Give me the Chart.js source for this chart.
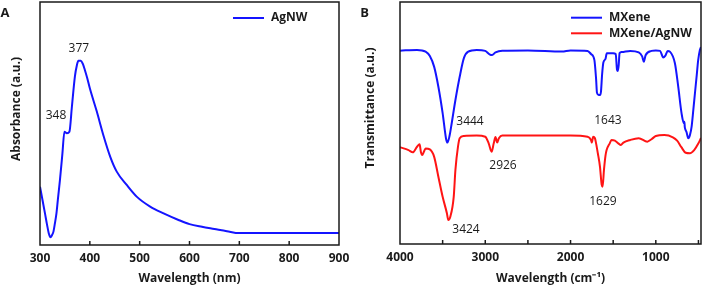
<!DOCTYPE html>
<html>
<head>
<meta charset="utf-8">
<script src="https://cdn.jsdelivr.net/npm/chart.js@4/dist/chart.umd.min.js"></script>
<style>
html, body { margin: 0; padding: 0; background: #fff; }
#wrap { position: relative; width: 704px; height: 287px; }
#wrap canvas { position: absolute; top: 0; }
</style>
</head>
<body>
<div id="wrap">
  <canvas id="chartA" width="360" height="287" style="left:0"></canvas>
  <canvas id="chartB" width="344" height="287" style="left:360px"></canvas>
</div>
<script>
// panel A - UV-vis of AgNW
let wavelengthA = [300, 305, 310, 314, 318, 321, 324, 327, 330, 333, 336, 340, 345, 349, 354, 359, 364, 370, 374, 377, 382, 386, 390, 395, 400, 414, 427, 441, 454, 474, 494, 521, 548, 578, 600, 625, 650, 675, 700, 750, 800, 850, 900];
let absorbanceA = [0.240, 0.185, 0.130, 0.085, 0.045, 0.032, 0.040, 0.055, 0.090, 0.130, 0.190, 0.267, 0.377, 0.466, 0.460, 0.466, 0.569, 0.693, 0.740, 0.758, 0.758, 0.745, 0.720, 0.685, 0.645, 0.549, 0.453, 0.363, 0.302, 0.247, 0.199, 0.158, 0.130, 0.103, 0.086, 0.075, 0.066, 0.057, 0.049, 0.049, 0.049, 0.049, 0.049];
let ticksA = [300, 400, 500, 600, 700, 800, 900];
let peakTextA = ['348', '377'];
let peakXA = [332, 378];
let peakYA = [0.531, 0.807];

// panel B - FTIR
let mxeneX = [4000, 3800, 3700, 3650, 3600, 3550, 3500, 3460, 3444, 3420, 3400, 3350, 3300, 3250, 3200, 3100, 3000, 2950, 2920, 2880, 2800, 2500, 2100, 2000, 1800, 1760, 1720, 1700, 1690, 1670, 1655, 1643, 1630, 1615, 1590, 1575, 1540, 1500, 1470, 1455, 1445, 1435, 1425, 1400, 1300, 1200, 1160, 1140, 1120, 1050, 1000, 950, 913, 890, 860, 835, 776, 737, 698, 671, 665, 660, 655, 640, 620, 600, 580, 560, 541, 520, 503, 483, 470];
let mxeneT = [79.9, 80.2, 79.5, 77.7, 73.3, 65.0, 54.1, 43.5, 41.9, 44.5, 48.5, 59.5, 69.1, 76.9, 79.5, 80.2, 79.8, 78.4, 78.1, 79.2, 79.9, 80.0, 79.5, 80.0, 79.8, 78.5, 76.0, 68.0, 62.5, 61.6, 61.6, 63.0, 70.0, 75.0, 76.5, 78.8, 78.8, 78.8, 78.5, 72.0, 71.5, 74.0, 78.9, 79.3, 79.8, 79.2, 77.5, 75.3, 78.0, 79.8, 80.0, 79.8, 77.1, 77.7, 79.8, 79.5, 74.7, 65.0, 54.0, 49.9, 50.5, 48.3, 47.5, 46.3, 43.7, 45.0, 48.5, 55.4, 62.3, 69.8, 76.0, 80.2, 81.4];
let compX = [4000, 3900, 3850, 3800, 3770, 3755, 3740, 3720, 3700, 3650, 3600, 3550, 3500, 3450, 3434, 3410, 3370, 3350, 3320, 3300, 3250, 3100, 3000, 2960, 2926, 2900, 2880, 2860, 2840, 2800, 2500, 2000, 1800, 1760, 1750, 1735, 1714, 1700, 1680, 1655, 1635, 1624, 1608, 1590, 1577, 1540, 1520, 1480, 1440, 1410, 1380, 1300, 1200, 1100, 1050, 1000, 900, 800, 750, 700, 650, 600, 550, 500, 470];
let compT = [40.0, 38.8, 37.9, 40.2, 41.2, 38.0, 36.8, 38.1, 39.5, 39.1, 36.1, 27.8, 19.5, 12.7, 9.9, 11.3, 19.5, 30.6, 40.2, 43.7, 44.6, 44.8, 44.3, 41.6, 38.1, 41.7, 44.2, 41.9, 43.7, 44.8, 44.8, 44.8, 44.3, 43.0, 41.9, 44.3, 43.7, 41.5, 37.5, 32.0, 24.5, 23.7, 30.6, 36.5, 38.8, 41.6, 43.0, 42.7, 41.6, 40.9, 41.9, 43.0, 43.7, 42.3, 43.3, 44.6, 45.0, 44.1, 42.7, 40.0, 37.7, 37.5, 38.8, 41.6, 43.8];
let ticksB = [500, 1000, 1500, 2000, 2500, 3000, 3500, 4000];
let tickLabelsB = ['', '1000', '', '2000', '', '3000', '', '4000'];
let peakTextB = ['3444', '1643', '2926', '1629', '3424'];
let peakXB = [3179, 1562, 2792, 1620, 3226];
let peakYB = [50.5, 51.2, 32.6, 17.5, 5.8];

let fontName = '"Open Sans", sans-serif';
let inkColor = '#1a1a1a';

function pairs(xs, ys) {
    return xs.map((x, i) => ({x : x, y : ys[i]}));
}

// frame, inner ticks, peak labels, legend, y title and panel letter
function decor(o) {
    return {
        id : 'decor',
        afterDraw(chart) {
            let ctx = chart.ctx, area = chart.chartArea;
            let xs = chart.scales.x, ys = chart.scales.y;
            ctx.save();
            ctx.strokeStyle = inkColor;
            ctx.lineWidth = 1.5;
            xs.ticks.forEach(t => {
                let px = xs.getPixelForValue(t.value);
                if (px > area.left + 2 && px < area.right - 2) {
                    ctx.beginPath();
                    ctx.moveTo(px, area.bottom);
                    ctx.lineTo(px, area.bottom - 4);
                    ctx.stroke();
                }
            });
            ctx.strokeRect(area.left, area.top, area.right - area.left, area.bottom - area.top);

            ctx.fillStyle = inkColor;
            ctx.textAlign = 'center';
            ctx.textBaseline = 'middle';
            ctx.font = '12px ' + fontName;
            o.peakText.forEach((s, i) => {
                ctx.fillText(s, xs.getPixelForValue(o.peakX[i]), ys.getPixelForValue(o.peakY[i]));
            });

            ctx.font = 'bold 12px ' + fontName;
            ctx.textAlign = 'left';
            chart.data.datasets.forEach((d, i) => {
                let y = o.legendY + i * 15.6;
                ctx.strokeStyle = d.borderColor;
                ctx.lineWidth = 2;
                ctx.beginPath();
                ctx.moveTo(o.legendX, y);
                ctx.lineTo(o.legendX + 31, y);
                ctx.stroke();
                ctx.fillText(d.label, o.legendX + 38, y);
            });

            ctx.save();
            ctx.translate(o.yTitleX, o.yTitleY);
            ctx.rotate(-Math.PI / 2);
            ctx.textAlign = 'center';
            ctx.fillText(o.yTitle, 0, 0);
            ctx.restore();

            ctx.font = 'bold 13px ' + fontName;
            ctx.textAlign = 'center';
            ctx.fillText(o.letter, o.letterX, o.letterY);
            ctx.restore();
        }
    };
}

function xAxis(min, max, ticks, labels, title, height, reverse) {
    return {
        type : 'linear',
        min : min,
        max : max,
        reverse : reverse,
        afterBuildTicks : s => { s.ticks = ticks.map(v => ({value : v})); },
        afterFit : s => { s.height = height; },
        ticks : {
            autoSkip : false,
            maxRotation : 0,
            padding : 6,
            color : inkColor,
            font : {family : fontName, size : 12, weight : 'bold'},
            callback : v => labels[ticks.indexOf(v)]
        },
        grid : {display : false, drawTicks : false},
        border : {display : false},
        title : {
            display : true,
            text : title,
            color : inkColor,
            font : {family : fontName, size : 12, weight : 'bold'},
            padding : {top : 0, bottom : 1}
        }
    };
}

let baseOptions = {
    responsive : false,
    animation : false,
    plugins : {legend : {display : false}, tooltip : {enabled : false}},
    elements : {point : {radius : 0}, line : {cubicInterpolationMode : 'monotone', borderWidth : 2}}
};

new Chart(document.getElementById('chartA').getContext('2d'), {
    type : 'line',
    data : {
        datasets : [{
            label : 'AgNW',
            data : pairs(wavelengthA, absorbanceA),
            borderColor : '#1414ff'
        }]
    },
    options : Object.assign({}, baseOptions, {
        layout : {padding : {left : 40, top : 2, right : 21, bottom : 0}},
        scales : {
            x : xAxis(300, 900, ticksA, ticksA.map(String), 'Wavelength (nm)', 42, false),
            y : {display : false, min : 0, max : 1}
        }
    }),
    plugins : [decor({
        peakText : peakTextA, peakX : peakXA, peakY : peakYA,
        legendX : 233, legendY : 18,
        yTitle : 'Absorbance (a.u.)', yTitleX : 17, yTitleY : 109,
        letter : 'A', letterX : 5, letterY : 13
    })]
});

new Chart(document.getElementById('chartB').getContext('2d'), {
    type : 'line',
    data : {
        datasets : [{
            label : 'MXene',
            data : pairs(mxeneX, mxeneT),
            borderColor : '#1414ff'
        }, {
            label : 'MXene/AgNW',
            data : pairs(compX, compT),
            borderColor : '#ff1414'
        }]
    },
    options : Object.assign({}, baseOptions, {
        layout : {padding : {left : 40, top : 2, right : 3, bottom : 0}},
        scales : {
            x : xAxis(470, 4000, ticksB, tickLabelsB, 'Wavelength (cm\u207B\u00B9)', 43, true),
            y : {display : false, min : 0, max : 100}
        }
    }),
    plugins : [decor({
        peakText : peakTextB, peakX : peakXB, peakY : peakYB,
        legendX : 211, legendY : 17.7,
        yTitle : 'Transmittance (a.u.)', yTitleX : 10.5, yTitleY : 108,
        letter : 'B', letterX : 4.5, letterY : 13.3
    })]
});
</script>
</body>
</html>
